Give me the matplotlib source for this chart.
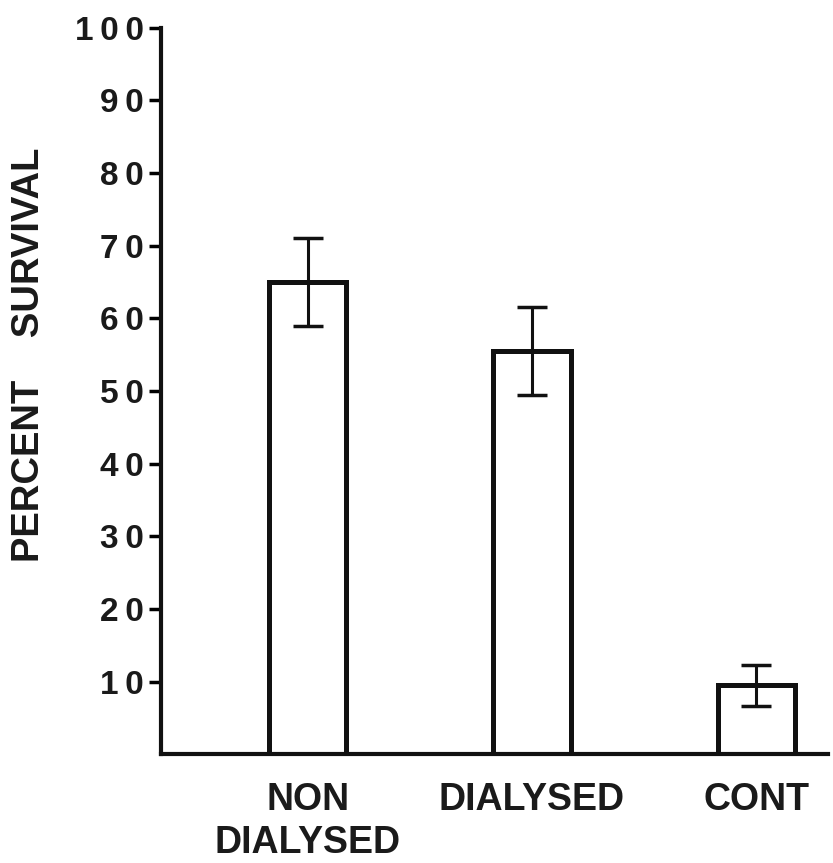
import numpy as np
from matplotlib import pyplot as plt

# survival data
groups = ["NON\nDIALYSED", "DIALYSED", "CONT"]
survival = [65, 55.5, 9.5]
err = [6, 6, 2.8]
yticks = [10, 20, 30, 40, 50, 60, 70, 80, 90, 100]

plt.rcParams['font.family'] = ['Liberation Sans', 'DejaVu Sans']
plt.rcParams['font.weight'] = 'bold'

fig = plt.figure(figsize=(8.33, 8.63), dpi=100)
ax = fig.add_axes([0.193, 0.126, 0.801, 0.842])

x = np.arange(len(groups))
ax.bar(x, survival, width=0.344, color='white', edgecolor='#111111', linewidth=3.6, zorder=2)
ax.errorbar(x, survival, yerr=err, fmt='none', ecolor='#111111', elinewidth=2.2,
            capsize=11, capthick=2.5, zorder=3)

ax.set_xlim(-0.656, 2.32)
ax.set_ylim(0, 100)
ax.set_yticks(yticks)
# the original uses wide letter spacing on the numbers
ax.set_yticklabels(["\u2009".join(str(v)) for v in yticks], fontsize=24,
                   fontweight='bold', color='#1a1a1a')
ax.set_xticks(x)
ax.set_xticklabels(groups, fontsize=27, fontweight='bold', color='#1a1a1a', linespacing=1.25)
ax.tick_params(axis='y', length=9, width=2.5, pad=3)
ax.tick_params(axis='x', length=0, pad=20)

for s in ['top', 'right']:
    ax.spines[s].set_visible(False)
for s in ['left', 'bottom']:
    ax.spines[s].set_linewidth(3)
    ax.spines[s].set_color('#111111')

ax.set_ylabel("PERCENT    SURVIVAL", fontsize=27.5, fontweight='bold', color='#1a1a1a')
ax.yaxis.set_label_coords(-0.171, 0.55)

fig.savefig("out.png", dpi=100)
